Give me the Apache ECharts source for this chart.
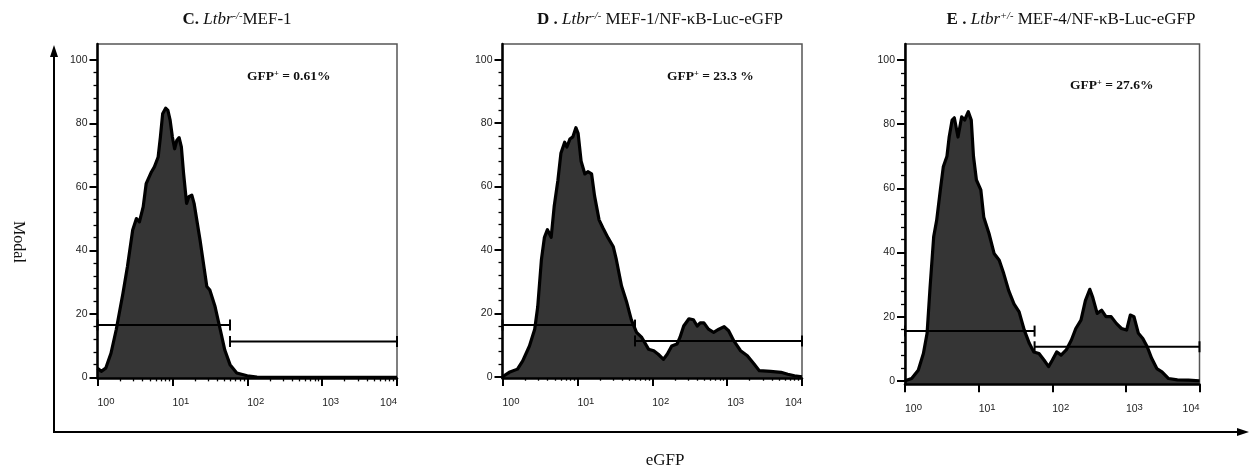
<!DOCTYPE html>
<html>
<head>
<meta charset="utf-8">
<script src="https://cdn.jsdelivr.net/npm/echarts@6/dist/echarts.min.js"></script>
<style>
  html, body { margin: 0; padding: 0; background: #fff; }
  #chart { width: 1252px; height: 473px; }
</style>
</head>
<body>
<div id="chart"></div>
<script>
// Tick values: eGFP axis is in decades (10^0 .. 10^4), Modal axis in percent of max
const decadeTicks = [0, 1, 2, 3, 4];
const modalTicks = [0, 20, 40, 60, 80, 100];

// C. Ltbr-/- MEF-1 histogram (x in decades of eGFP, y = Modal)
const decadesC = [0, 0.05, 0.11, 0.18, 0.25, 0.34, 0.4, 0.47, 0.52, 0.56, 0.61, 0.65, 0.72, 0.76, 0.81, 0.84, 0.87, 0.91, 0.94, 0.97, 1.0, 1.03, 1.06, 1.09, 1.12, 1.15, 1.19, 1.22, 1.26, 1.29, 1.37, 1.46, 1.5, 1.57, 1.64, 1.7, 1.77, 1.86, 2.0, 2.13, 2.3, 4];
const modalC = [2.9, 1.9, 2.9, 7.6, 15, 26.5, 34.9, 46.4, 50, 49, 53.7, 61, 64.7, 66.3, 69.4, 75.7, 83, 84.8, 84.1, 81, 75.7, 72, 74.7, 75.5, 72.6, 64.2, 54.8, 56.9, 57.4, 54.8, 43.2, 28.6, 27.5, 22.3, 15, 8.6, 4, 1.4, 0.5, 0.1, 0, 0];

// D. Ltbr-/- MEF-1/NF-kB-Luc-eGFP histogram
const decadesD = [0, 0.09, 0.2, 0.27, 0.36, 0.43, 0.47, 0.52, 0.56, 0.6, 0.65, 0.69, 0.74, 0.78, 0.83, 0.86, 0.9, 0.94, 0.98, 1.01, 1.05, 1.1, 1.14, 1.19, 1.23, 1.29, 1.34, 1.41, 1.48, 1.52, 1.59, 1.66, 1.72, 1.79, 1.86, 1.95, 2.02, 2.08, 2.15, 2.2, 2.26, 2.33, 2.37, 2.42, 2.49, 2.55, 2.6, 2.64, 2.69, 2.75, 2.82, 2.89, 2.96, 3.02, 3.09, 3.18, 3.27, 3.36, 3.43, 3.58, 3.72, 3.81, 3.9, 4];
const modalD = [0, 1.4, 2.4, 5, 9.7, 15, 22, 37, 44, 46.4, 44, 53.7, 62, 70.5, 74, 72.5, 75, 75.7, 78.6, 76.8, 68, 64, 64.7, 64, 57, 49.5, 47, 43.8, 41, 37, 28.6, 23.4, 18, 14, 12.4, 8.7, 8.2, 7.1, 5.5, 7.1, 9.7, 10.3, 12.4, 16, 18.3, 18, 16, 17, 17, 15, 14, 15, 15.8, 14.5, 11.3, 8.2, 6.6, 4, 1.9, 1.7, 1.4, 0.8, 0.3, 0];

// E. Ltbr+/- MEF-4/NF-kB-Luc-eGFP histogram
const decadesE = [0, 0.09, 0.18, 0.25, 0.3, 0.34, 0.39, 0.43, 0.48, 0.52, 0.57, 0.6, 0.64, 0.67, 0.72, 0.77, 0.81, 0.86, 0.9, 0.93, 0.97, 1.03, 1.07, 1.14, 1.21, 1.28, 1.34, 1.41, 1.48, 1.55, 1.62, 1.69, 1.75, 1.82, 1.89, 1.95, 2.0, 2.06, 2.12, 2.19, 2.26, 2.32, 2.39, 2.45, 2.51, 2.55, 2.61, 2.67, 2.73, 2.8, 2.87, 2.94, 3.01, 3.06, 3.11, 3.17, 3.23, 3.29, 3.35, 3.42, 3.49, 3.58, 3.7, 3.85, 4];
const modalE = [0, 0.7, 3.3, 8.5, 14.8, 29, 45, 50, 59.5, 66.7, 70, 76, 81.3, 82, 76, 82.3, 81.3, 83.9, 81.3, 70, 62.6, 59.5, 51, 46, 39.7, 37.6, 33.5, 28, 24, 21.5, 15.8, 11.6, 9, 8.5, 6.4, 4.4, 6.4, 9, 8, 9.6, 12.7, 16.3, 18.9, 25, 28.5, 26, 21, 22, 20, 20, 17.9, 16.3, 15.8, 20.5, 20, 14.8, 13.2, 10.6, 7, 3.8, 2.8, 0.7, 0.3, 0.2, 0];

// Gates: [start decade, end decade, Modal level]
const gatesC = [[0, 1.77, 16.5], [1.77, 4, 11.3]];
const gatesD = [[0, 1.77, 16.3], [1.77, 4, 11.3]];
const gatesE = [[0, 1.76, 15.5], [1.76, 4, 10.6]];

// Panel titles and gate percentages
const titleLetters = ['C.', 'D .', 'E .'];
const genotypes = ['-/-', '-/-', '+/-'];
const cellLines = ['MEF-1', 'MEF-1/NF-\u03baB-Luc-eGFP', 'MEF-4/NF-\u03baB-Luc-eGFP'];
const gfpPositive = ['0.61%', '23.3 %', '27.6%'];

const SERIF = '"Liberation Serif", "Times New Roman", serif';
const SANS = '"Liberation Sans", Arial, sans-serif';

const panels = [
  { left: 97.5, top: 44, width: 299.5, height: 334, yMin: -0.2, x: decadesC, y: modalC, gates: gatesC,
    titleX: 237, titleSpace: '', gfpX: 247, gfpY: 77 },
  { left: 502.5, top: 44, width: 299.5, height: 334, yMin: -0.4, x: decadesD, y: modalD, gates: gatesD,
    titleX: 660, titleSpace: ' ', gfpX: 667, gfpY: 77 },
  { left: 905, top: 44, width: 294.5, height: 340.3, yMin: -1.1, x: decadesE, y: modalE, gates: gatesE,
    titleX: 1071, titleSpace: ' ', gfpX: 1070, gfpY: 86 }
];

// Minor tick positions on a log scale (2..9 within each decade) and on the Modal axis
const minorDecadeTicks = [];
for (let d = 0; d < 4; d++) {
  for (let k = 2; k <= 9; k++) minorDecadeTicks.push(d + Math.log10(k));
}
const minorModalTicks = [];
for (let v = 4; v < 100; v += 4) if (v % 20 !== 0) minorModalTicks.push(v);

const grid = [], xAxis = [], yAxis = [], series = [], graphic = [];

panels.forEach((p, i) => {
  grid.push({
    left: p.left, top: p.top, width: p.width, height: p.height,
    show: true, borderColor: '#555', borderWidth: 1.5, backgroundColor: 'transparent',
    containLabel: false, outerBoundsMode: 'none'
  });
  const g = i;
  // minor (log) eGFP ticks
  xAxis.push({
    type: 'value', gridIndex: g, min: 0, max: 4, position: 'bottom', z: 1,
    axisLine: { show: false },
    axisTick: { show: true, length: 4, customValues: minorDecadeTicks, lineStyle: { color: '#000', width: 1.3 } },
    axisLabel: { show: false },
    splitLine: { show: false }
  });
  // major eGFP axis
  xAxis.push({
    type: 'value', gridIndex: g, min: 0, max: 4, position: 'bottom', z: 2,
    axisLine: { show: true, onZero: false, lineStyle: { color: '#000', width: 2.5 } },
    axisTick: { show: true, length: 8, customValues: decadeTicks, lineStyle: { color: '#000', width: 2 } },
    axisLabel: {
      show: true, customValues: decadeTicks, margin: 18, align: 'left', alignMaxLabel: 'right',
      formatter: v => '{b|10}{s|' + v + '}',
      rich: {
        b: { fontFamily: SANS, fontSize: 10.5, color: '#222', lineHeight: 14 },
        s: { fontFamily: SANS, fontSize: 9.5, color: '#222', lineHeight: 4, verticalAlign: 'top' }
      }
    },
    splitLine: { show: false }
  });
  // minor Modal ticks
  yAxis.push({
    type: 'value', gridIndex: g, min: p.yMin, max: 105, position: 'left', z: 1,
    axisLine: { show: false },
    axisTick: { show: true, length: 4, customValues: minorModalTicks, lineStyle: { color: '#000', width: 1.3 } },
    axisLabel: { show: false },
    splitLine: { show: false }
  });
  // major Modal axis
  yAxis.push({
    type: 'value', gridIndex: g, min: p.yMin, max: 105, position: 'left', z: 2,
    axisLine: { show: true, onZero: false, lineStyle: { color: '#000', width: 2.5 } },
    axisTick: { show: true, length: 8, customValues: modalTicks, lineStyle: { color: '#000', width: 2 } },
    axisLabel: { show: true, customValues: modalTicks, margin: 10, fontFamily: SANS, fontSize: 10.5, color: '#222' },
    splitLine: { show: false }
  });

  // histogram
  series.push({
    type: 'line', xAxisIndex: 2 * i + 1, yAxisIndex: 2 * i + 1,
    data: p.x.map((d, k) => [d, p.y[k]]),
    showSymbol: false, symbol: 'none', smooth: false, clip: true,
    lineStyle: { color: '#000', width: 3.2, join: 'round' },
    areaStyle: { color: '#353535', opacity: 1, origin: 'start' },
    z: 2
  });

  // gate markers with end caps
  series.push({
    type: 'custom', xAxisIndex: 2 * i + 1, yAxisIndex: 2 * i + 1,
    data: p.gates, clip: false, z: 3,
    encode: { x: [0, 1], y: 2 },
    renderItem: (params, api) => {
      const lvl = api.value(2);
      const a = api.coord([api.value(0), lvl]);
      const b = api.coord([api.value(1), lvl]);
      const h = 5.5;
      const st = { stroke: '#000', lineWidth: 2 };
      return {
        type: 'group',
        children: [
          { type: 'line', shape: { x1: a[0], y1: a[1], x2: b[0], y2: b[1] }, style: st },
          { type: 'line', shape: { x1: a[0], y1: a[1] - h, x2: a[0], y2: a[1] + h }, style: st },
          { type: 'line', shape: { x1: b[0], y1: b[1] - h, x2: b[0], y2: b[1] + h }, style: st }
        ]
      };
    }
  });

  // panel title
  graphic.push({
    type: 'text', x: p.titleX, y: 20,
    style: {
      text: '{b|' + titleLetters[i] + '} {i|Ltbr}{s|' + genotypes[i] + '}' + p.titleSpace + '{n|' + cellLines[i] + '}',
      align: 'center', verticalAlign: 'middle',
      fontFamily: SERIF, fontSize: 17, fill: '#111',
      rich: {
        b: { fontFamily: SERIF, fontSize: 17, fontWeight: 'bold', fill: '#111', lineHeight: 19 },
        i: { fontFamily: SERIF, fontSize: 17, fontStyle: 'italic', fill: '#111', lineHeight: 19 },
        s: { fontFamily: SERIF, fontSize: 10.5, fontStyle: 'italic', fill: '#111', lineHeight: 8, verticalAlign: 'top' },
        n: { fontFamily: SERIF, fontSize: 17, fill: '#111', lineHeight: 19 }
      }
    }
  });

  // GFP+ percentage
  graphic.push({
    type: 'text', x: p.gfpX, y: p.gfpY,
    style: {
      text: '{b|GFP}{s|+}{b| = ' + gfpPositive[i] + '}',
      align: 'left', verticalAlign: 'middle',
      rich: {
        b: { fontFamily: SERIF, fontSize: 13.5, fontWeight: 'bold', fill: '#111', lineHeight: 15 },
        s: { fontFamily: SERIF, fontSize: 8.5, fontWeight: 'bold', fill: '#111', lineHeight: 7, verticalAlign: 'top' }
      }
    }
  });
});

// shared Modal / eGFP arrows
graphic.push(
  { type: 'line', shape: { x1: 54, y1: 433, x2: 54, y2: 54 }, style: { stroke: '#000', lineWidth: 2 } },
  { type: 'polygon', shape: { points: [[54, 45], [50, 57], [58, 57]] }, style: { fill: '#000' } },
  { type: 'line', shape: { x1: 53, y1: 432, x2: 1240, y2: 432 }, style: { stroke: '#000', lineWidth: 2 } },
  { type: 'polygon', shape: { points: [[1249, 432], [1237, 428], [1237, 436]] }, style: { fill: '#000' } },
  {
    type: 'text', x: 18, y: 242, rotation: -Math.PI / 2,
    style: { text: 'Modal', align: 'center', verticalAlign: 'middle', fontFamily: SERIF, fontSize: 16, fill: '#111' }
  },
  {
    type: 'text', x: 665, y: 461,
    style: { text: 'eGFP', align: 'center', verticalAlign: 'middle', fontFamily: SERIF, fontSize: 17, fill: '#111' }
  }
);

const chart = echarts.init(document.getElementById('chart'), null, { renderer: 'canvas' });
chart.setOption({
  animation: false,
  backgroundColor: '#fff',
  grid, xAxis, yAxis, series, graphic
});
</script>
</body>
</html>
